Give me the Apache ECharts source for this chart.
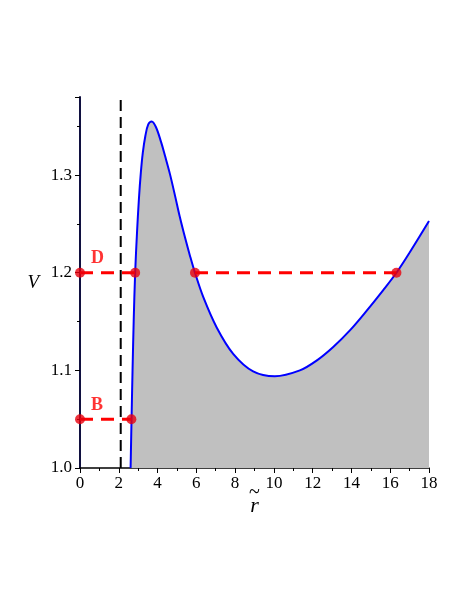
<!DOCTYPE html>
<html>
<head>
<meta charset="UTF-8">
<title>V(r)</title>
<script src="https://cdn.jsdelivr.net/npm/echarts@6.0.0/dist/echarts.min.js"></script>
<style>
  html, body { margin: 0; padding: 0; background: #fff; }
  #chart { width: 472px; height: 611px; }
</style>
</head>
<body>
<div id="chart"></div>
<script>
// curve V(r)
const curveR = [2.61, 2.66, 2.71, 2.77, 2.845, 2.94, 3.04, 3.14, 3.24, 3.37, 3.52, 3.70, 3.92, 4.18, 4.38, 4.64, 4.90, 5.15, 5.41, 5.67, 5.93, 6.36, 7.05, 7.90, 8.93, 10.05, 11.34, 12.20, 13.06, 13.92, 14.78, 15.63, 16.32, 17.01, 18.0];
const curveV = [1.000, 1.052, 1.100, 1.151, 1.200, 1.241, 1.276, 1.303, 1.323, 1.340, 1.352, 1.355, 1.349, 1.334, 1.320, 1.301, 1.279, 1.257, 1.2365, 1.2175, 1.200, 1.175, 1.144, 1.117, 1.099, 1.094, 1.100, 1.110, 1.124, 1.141, 1.161, 1.182, 1.200, 1.221, 1.253];

// energy levels and their turning points
const levelD = 1.2;
const levelB = 1.05;
const turnD = [0, 2.845, 5.93, 16.32];
const turnB = [0, 2.65];
const horizonR = 2.1;

const xTicks = [0, 2, 4, 6, 8, 10, 12, 14, 16, 18];
const yMin = 1.0, yMax = 1.38;

const serif = 'Liberation Serif';
const chart = echarts.init(document.getElementById('chart'));

const curve = curveR.map((r, i) => [r, curveV[i]]);

chart.setOption({
  animation: false,
  grid: { left: 80, right: 43, top: 97, bottom: 143 },
  xAxis: {
    type: 'value', min: 0, max: 18, interval: 2,
    name: '{t|~}\n{r|r}', nameLocation: 'middle', nameGap: 21, nameMoveOverlap: false,
    nameTextStyle: {
      rich: {
        t: { fontFamily: serif, fontSize: 20, color: '#000', lineHeight: 7, align: 'center' },
        r: { fontFamily: serif, fontStyle: 'italic', fontSize: 22, color: '#000', lineHeight: 20, align: 'center' }
      }
    },
    axisLine: { lineStyle: { color: '#000', width: 1.5 } },
    axisTick: { length: 5, lineStyle: { color: '#000' } },
    minorTick: { show: true, splitNumber: 2, length: 3, lineStyle: { color: '#000' } },
    axisLabel: { fontFamily: serif, fontSize: 17, color: '#000', margin: 7,
      formatter: v => xTicks.includes(v) ? String(v) : '' },
    splitLine: { show: false }
  },
  yAxis: {
    type: 'value', min: yMin, max: yMax, interval: 0.1,
    name: 'V', nameLocation: 'middle', nameGap: 41, nameRotate: 0, nameMoveOverlap: false,
    nameTextStyle: { fontFamily: serif, fontStyle: 'italic', fontSize: 19, color: '#000' },
    axisLine: { lineStyle: { color: '#101040', width: 2 } },
    axisTick: { length: 5, lineStyle: { color: '#000' } },
    minorTick: { show: true, splitNumber: 2, length: 3, lineStyle: { color: '#000' } },
    axisLabel: { fontFamily: serif, fontSize: 17, color: '#000', margin: 8,
      showMaxLabel: false, formatter: v => v.toFixed(1) },
    splitLine: { show: false }
  },
  series: [
    {
      type: 'line', data: curve, smooth: 0.35, showSymbol: false,
      lineStyle: { color: '#0000ff', width: 2 },
      areaStyle: { color: '#c0c0c0', opacity: 1, origin: 'start' },
      z: 2
    },
    {
      type: 'line', data: [[horizonR, yMin], [horizonR, yMax]], showSymbol: false,
      lineStyle: { color: '#000', width: 2, type: [11, 6] }, z: 3
    },
    {
      type: 'line', data: [[turnD[0], levelD], [turnD[1], levelD]], showSymbol: false,
      lineStyle: { color: '#ff0000', width: 3, type: [13, 8] }, z: 4
    },
    {
      type: 'line', data: [[turnD[2], levelD], [turnD[3], levelD]], showSymbol: false,
      lineStyle: { color: '#ff0000', width: 3, type: [13, 8] }, z: 4
    },
    {
      type: 'line', data: [[turnB[0], levelB], [turnB[1], levelB]], showSymbol: false,
      lineStyle: { color: '#ff0000', width: 3, type: [13, 8] }, z: 4
    },
    {
      type: 'scatter', symbolSize: 10, itemStyle: { color: '#e8000c' }, z: 5,
      data: [
        { value: [turnD[0], levelD], label: { show: true, formatter: 'D', position: 'right', offset: [1, -14] } },
        [turnD[1], levelD], [turnD[2], levelD], [turnD[3], levelD],
        { value: [turnB[0], levelB], label: { show: true, formatter: 'B', position: 'right', offset: [1, -14] } },
        [turnB[1], levelB]
      ],
      label: { fontFamily: serif, fontWeight: 'bold', fontSize: 18, color: '#ff0000' }
    }
  ]
});
</script>
</body>
</html>
